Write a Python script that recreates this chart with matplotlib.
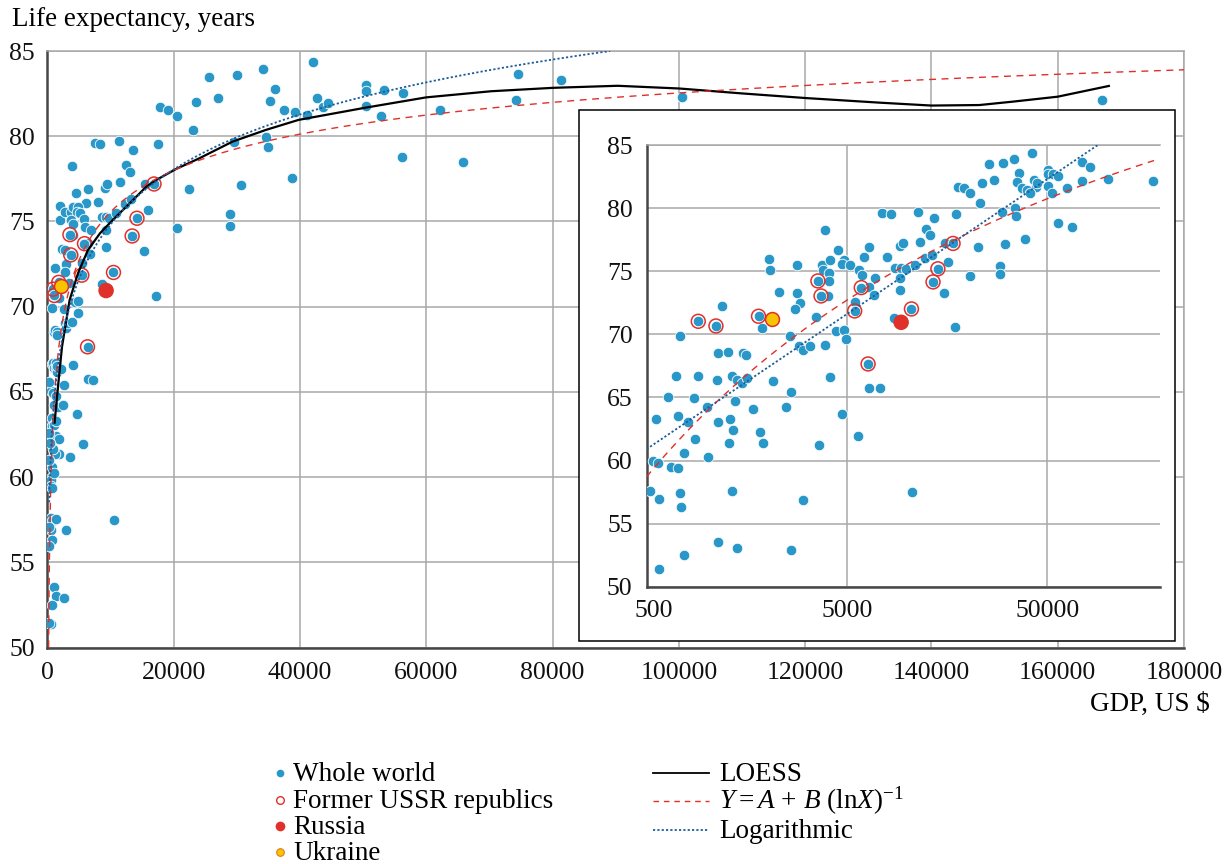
import matplotlib
matplotlib.use('Agg')
import matplotlib.pyplot as plt
import numpy as np
from matplotlib.lines import Line2D
from matplotlib.patches import Rectangle
from matplotlib.transforms import ScaledTranslation

plt.rcParams['font.family'] = ['Liberation Serif', 'DejaVu Serif']
plt.rcParams['mathtext.fontset'] = 'custom'
plt.rcParams['mathtext.rm'] = 'Liberation Serif'
plt.rcParams['mathtext.it'] = 'Liberation Serif:italic'

# countries (GDP per capita, US $ / life expectancy, years)
other_gdp = [7500, 3880, 4530, 6410, 6080, 7950, 2030, 2060, 2810, 3770, 4110, 4830, 4740,
             5200, 5740, 5970, 3800, 4070, 4050, 6900, 6440, 6820, 5480, 4030, 2300, 2830,
             2900, 2760, 3510, 1190, 1890, 733, 4420, 4850, 4920, 2590, 1140, 1280, 1510,
             1570, 2870, 3010, 3280, 3900,
             42000, 25600, 30000, 34100, 36100, 35300, 50400, 50500, 53300, 56300, 74500,
             81300, 74200, 100500, 167000, 42700, 43600, 44500, 37500, 39300, 41100, 50400,
             52800, 62200, 17900, 19100, 20600, 23600, 27000, 23000, 8320, 11300, 13550,
             17580, 29500, 34600, 35000, 56100, 65900, 12450, 13040, 9170, 9530, 11530,
             15400, 22400, 30600, 38700, 12300, 13330, 8650, 9330, 9820, 10900, 15950,
             9240, 9240, 15240, 20500, 28900, 28900, 8610, 17200,
             6460, 7300, 698, 900, 1118, 1330, 1410, 1490, 1590, 2130, 2620, 4100, 637,
             858, 997, 1380, 1690, 2470, 4700, 558, 717, 804, 1140, 1300, 1344, 1840, 1905,
             1290, 871, 3640, 5670, 538, 570, 771, 1016, 664, 714, 518, 577, 737, 745, 1333,
             3000, 1135, 1410, 766, 578, 2620, 10600,
             300, 250, 350, 280, 300, 260, 200]
other_le = [79.6, 78.25, 76.67, 76.9, 76.11, 76.16, 75.93, 75.08, 75.53, 75.53, 75.87, 75.87,
            75.56, 75.5, 75.13, 74.68, 75.08, 74.87, 74.21, 74.5, 73.76, 73.12, 72.54, 73.02,
            73.36, 73.31, 72.49, 72.01, 71.38, 72.25, 70.5, 69.9, 70.26, 70.32, 69.66, 69.84,
            68.52, 68.62, 68.52, 68.33, 69.05, 68.78, 69.05, 69.13,
            84.34, 83.49, 83.6, 83.92, 82.75, 82.09, 82.98, 82.68, 82.72, 82.54, 83.68,
            83.28, 82.14, 82.3, 82.14, 82.22, 81.69, 81.95, 81.56, 81.43, 81.22, 81.75,
            81.16, 81.56, 81.69, 81.56, 81.16, 82.01, 82.22, 80.37, 79.55, 79.71, 79.21,
            79.52, 79.66, 79.97, 79.39, 78.81, 78.49, 78.31, 77.88, 76.98, 77.2, 77.33,
            77.2, 76.93, 77.12, 77.57, 76.03, 76.3, 75.29, 75.29, 75.19, 75.48, 75.69,
            74.5, 73.49, 73.25, 74.63, 75.42, 74.76, 71.32, 70.61,
            65.77, 65.71, 66.67, 66.72, 66.4, 66.72, 66.38, 66.16, 66.51, 66.32, 65.42,
            66.59, 65.03, 64.92, 64.26, 64.74, 64.1, 64.26, 63.68, 63.31, 63.49, 63.02,
            63.07, 63.28, 62.41, 62.25, 61.38, 61.35, 61.67, 61.19, 61.93, 59.97, 59.84,
            60.58, 60.26, 59.5, 59.39, 57.62, 56.93, 57.43, 56.3, 57.57, 56.9, 53.54,
            53.04, 52.51, 51.38, 52.94, 57.49,
            65.6, 62.6, 62.0, 61.0, 57.1, 55.95, 51.45]

ussr_gdp = [3580, 5890, 3710, 5460, 906, 1110, 1810, 16900, 14200, 13430, 10480, 6370]
ussr_le = [74.23, 73.7, 73.04, 71.85, 71.03, 70.66, 71.43, 77.2, 75.19, 74.15, 72.01, 67.65]
russia_gdp, russia_le = 9310, 70.95
ukraine_gdp, ukraine_le = 2110, 71.19

world_gdp = other_gdp + ussr_gdp
world_le = other_le + ussr_le

# LOESS curve
loess_gdp = [1150, 1800, 2330, 3010, 3540, 4860, 6440, 8350, 10400, 13600, 15700, 17280,
             20400, 24100, 29300, 34600, 39800, 50300, 60000, 70300, 80100, 90300, 100100,
             109700, 120100, 131800, 140000, 147600, 152900, 160000, 168100]
loess_le = [63.2, 65.7, 67.66, 69.2, 70.4, 71.96, 73.33, 74.31, 75.1, 76.27, 77.05, 77.44,
            78.08, 78.71, 79.68, 80.37, 80.96, 81.67, 82.28, 82.64, 82.84, 82.96, 82.8,
            82.52, 82.24, 81.97, 81.8, 81.83, 82.03, 82.32, 82.95]

# trend coefficients: Y = A + B / lnX and Y = C + D lnX
A, B = 110.5, -321.9
C, D = 32.0, 4.65

BLUE = '#2a97c9'
RED = '#e0302a'
YELLOW = '#f8c400'
GRID = '#a8a8a8'
SPINE = '#474747'
DOTBLUE = '#1c5c99'
TICK_FS = 18.5
TEXT_FS = 19.5

W, H = 1226, 864
fig = plt.figure(figsize=(W / 100, H / 100), dpi=100)


def box(l, t, r, b):
    return [l / W, 1 - b / H, (r - l) / W, (b - t) / H]


def style(a, right_grey):
    a.grid(True, color=GRID, lw=1.1)
    a.set_axisbelow(True)
    for s in ['left', 'bottom']:
        a.spines[s].set_color(SPINE)
        a.spines[s].set_linewidth(1.8)
    a.spines['top'].set_color(GRID)
    a.spines['top'].set_linewidth(1.1)
    if right_grey:
        a.spines['right'].set_color(GRID)
        a.spines['right'].set_linewidth(1.1)
    else:
        a.spines['right'].set_visible(False)
    a.tick_params(length=0, labelsize=TICK_FS, colors='#111111')


def draw_points(a):
    a.scatter(world_gdp, world_le, s=58, color=BLUE, edgecolors='white', linewidths=0.6, zorder=3)
    a.scatter(ussr_gdp, ussr_le, s=100, facecolors='none', edgecolors=RED, linewidths=1.1, zorder=4)
    a.scatter([russia_gdp], [russia_le], s=125, color=RED, edgecolors='none', zorder=5)
    a.scatter([ukraine_gdp], [ukraine_le], s=100, facecolors=YELLOW, edgecolors=RED,
              linewidths=1.1, zorder=5)


# main chart
ax = fig.add_axes(box(47.3, 51, 1184, 647.7))
style(ax, True)
draw_points(ax)
ax.plot(loess_gdp, loess_le, color='black', lw=1.6, zorder=6)
xr = np.geomspace(205, 180000, 800)
ax.plot(xr, A + B / np.log(xr), color=RED, lw=1.0, dashes=(5, 4), zorder=6, clip_on=False)
xl = np.geomspace(300, np.exp((85 - C) / D), 800)
ax.plot(xl, C + D * np.log(xl), color=DOTBLUE, lw=1.3, linestyle=(0, (1.2, 1.2)), zorder=6)
ax.set_xlim(0, 180000)
ax.set_ylim(50, 85)
xt = list(range(0, 180001, 20000))
ax.set_xticks(xt)
ax.set_xticklabels([str(v) for v in xt])
yt = list(range(50, 86, 5))
ax.set_yticks(yt)
ax.set_yticklabels([str(v) for v in yt])
ax.tick_params(axis='x', pad=10.5)
ax.tick_params(axis='y', pad=9)

# inset frame
fig.add_artist(Rectangle((578.5 / W, 1 - 641 / H), 596.8 / W, 531 / H, transform=fig.transFigure,
                         facecolor='white', edgecolor='black', lw=1.1, zorder=1))

# inset, log scale
ai = fig.add_axes(box(646.5, 145, 1160, 586.7))
ai.set_zorder(2)
ai.set_facecolor('white')
ai.set_xscale('log')
style(ai, False)
draw_points(ai)
xi = np.geomspace(500, 170000, 600)
ai.plot(xi, A + B / np.log(xi), color=RED, lw=1.0, dashes=(5, 4), zorder=6)
xil = np.geomspace(500, np.exp((85 - C) / D), 600)
ai.plot(xil, C + D * np.log(xil), color=DOTBLUE, lw=1.3, linestyle=(0, (1.2, 1.2)), zorder=6)
ai.set_xlim(500, 182000)
ai.set_ylim(50, 85)
ai.set_xticks([500, 5000, 50000])
ai.set_xticklabels(['500', '5000', '50000'])
ai.minorticks_off()
ai.set_yticks(yt)
ai.set_yticklabels([str(v) for v in yt])
ai.tick_params(axis='x', pad=9.5)
ai.tick_params(axis='y', pad=10)
lab0 = ai.get_xticklabels()[0]
lab0.set_transform(lab0.get_transform() + ScaledTranslation(0.07, 0, fig.dpi_scale_trans))

# axis titles
fig.text(12 / W, 1 - 26 / H, 'Life expectancy, years', fontsize=TEXT_FS, ha='left', va='baseline')
fig.text(1210 / W, 1 - 711 / H, 'GDP, US $', fontsize=TEXT_FS, ha='right', va='baseline')


# legend
def fx(px):
    return px / W


def fy(py):
    return 1 - py / H


rows_left = [772.7, 800, 826, 852]
fig.add_artist(Line2D([fx(280)], [fy(rows_left[0])], transform=fig.transFigure, marker='o',
                      markersize=5.5, color=BLUE, markeredgecolor='none', linestyle='none'))
fig.add_artist(Line2D([fx(280)], [fy(rows_left[1])], transform=fig.transFigure, marker='o',
                      markersize=5.5, markerfacecolor='white', markeredgecolor=RED,
                      markeredgewidth=1.0, linestyle='none'))
fig.add_artist(Line2D([fx(280)], [fy(rows_left[2])], transform=fig.transFigure, marker='o',
                      markersize=7, color=RED, markeredgecolor='none', linestyle='none'))
fig.add_artist(Line2D([fx(280)], [fy(rows_left[3])], transform=fig.transFigure, marker='o',
                      markersize=5.5, markerfacecolor=YELLOW, markeredgecolor='#e07a20',
                      markeredgewidth=0.8, linestyle='none'))
for txt, y in zip(['Whole world', 'Former USSR republics', 'Russia', 'Ukraine'], rows_left):
    fig.text(fx(293), fy(y + 8), txt, fontsize=TEXT_FS, ha='left', va='baseline')

rows_right = [772.7, 801, 830]
fig.add_artist(Line2D([fx(653), fx(709)], [fy(rows_right[0])] * 2, transform=fig.transFigure,
                      color='black', lw=1.3))
fig.add_artist(Line2D([fx(653), fx(709)], [fy(rows_right[1])] * 2, transform=fig.transFigure,
                      color=RED, lw=1.0, dashes=(4, 3.5)))
fig.add_artist(Line2D([fx(653), fx(709)], [fy(rows_right[2])] * 2, transform=fig.transFigure,
                      color=DOTBLUE, lw=1.3, linestyle=(0, (1.2, 1.2))))
fig.text(fx(719), fy(rows_right[0] + 8), 'LOESS', fontsize=TEXT_FS, ha='left', va='baseline')
fig.text(fx(719), fy(rows_right[1] + 8), r'$Y = A\,+\,B\ (\mathrm{ln}X)^{-1}$', fontsize=TEXT_FS,
         ha='left', va='baseline')
fig.text(fx(719), fy(rows_right[2] + 8), 'Logarithmic', fontsize=TEXT_FS, ha='left', va='baseline')

fig.savefig('out.png', dpi=100)
